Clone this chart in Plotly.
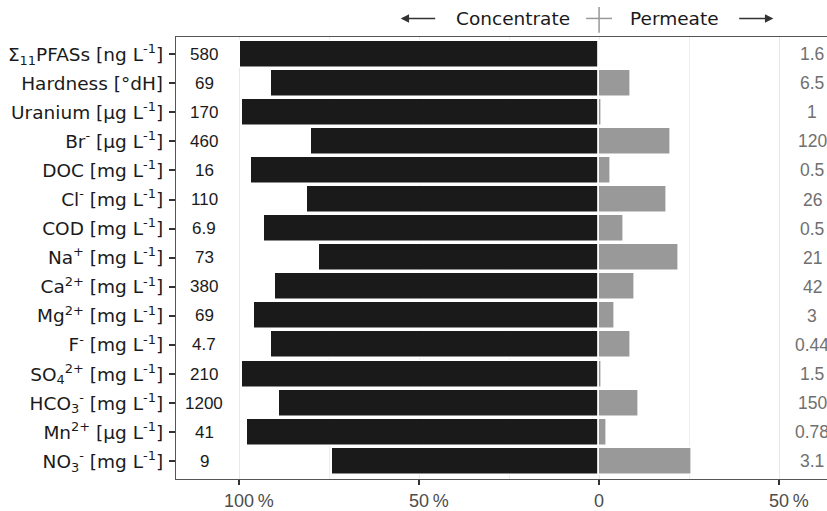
import plotly.graph_objects as go

labels = [
    "Σ<sub>11</sub>PFASs [ng L<sup>-1</sup>]",
    "Hardness [°dH]",
    "Uranium [µg L<sup>-1</sup>]",
    "Br<sup>-</sup> [µg L<sup>-1</sup>]",
    "DOC [mg L<sup>-1</sup>]",
    "Cl<sup>-</sup> [mg L<sup>-1</sup>]",
    "COD [mg L<sup>-1</sup>]",
    "Na<sup>+</sup> [mg L<sup>-1</sup>]",
    "Ca<sup>2+</sup> [mg L<sup>-1</sup>]",
    "Mg<sup>2+</sup> [mg L<sup>-1</sup>]",
    "F<sup>-</sup> [mg L<sup>-1</sup>]",
    "SO<sub>4</sub><sup>2+</sup> [mg L<sup>-1</sup>]",
    "HCO<sub>3</sub><sup>-</sup> [mg L<sup>-1</sup>]",
    "Mn<sup>2+</sup> [µg L<sup>-1</sup>]",
    "NO<sub>3</sub><sup>-</sup> [mg L<sup>-1</sup>]",
]
concentrate_pct = [99.7, 91.1, 99.2, 80.0, 96.7, 81.1, 93.1, 77.9, 89.9, 95.7, 91.1, 99.2, 88.8, 97.9, 74.2]
permeate_pct = [0.3, 8.9, 0.8, 20.0, 3.3, 18.9, 6.9, 22.1, 10.1, 4.3, 8.9, 0.8, 11.2, 2.1, 25.8]
concentrate_val = ["580", "69", "170", "460", "16", "110", "6.9", "73", "380", "69", "4.7", "210", "1200", "41", "9"]
permeate_val = ["1.6", "6.5", "1", "120", "0.5", "26", "0.5", "21", "42", "3", "0.44", "1.5", "150", "0.78", "3.1"]
x_tickvals = [-100, -50, 0, 50]
x_ticknums = ["100", "50", "0", "50"]
x_tickpct = [True, True, False, True]

pad = '<span style="color:rgba(255,255,255,0)">\u2009%</span>'
x_ticktext = [(pad + n + "\u2009%") if p else n for n, p in zip(x_ticknums, x_tickpct)]

ypos = list(range(len(labels)))

fig = go.Figure()
fig.add_trace(go.Bar(
    y=ypos, x=[-v for v in concentrate_pct], orientation="h", width=0.93,
    marker=dict(color="#1a1a1a", line=dict(color="white", width=1.6)),
    hoverinfo="skip", showlegend=False,
))
fig.add_trace(go.Bar(
    y=ypos, x=permeate_pct, orientation="h", width=0.93,
    marker=dict(color="#999999", line=dict(color="white", width=1.6)),
    hoverinfo="skip", showlegend=False,
))

for i in ypos:
    fig.add_annotation(x=-109.7, y=i, text=concentrate_val[i], showarrow=False,
                       font=dict(family="Liberation Sans, Arial", size=17, color="#1a1a1a"),
                       xanchor="center", yanchor="middle")
    fig.add_annotation(x=59.2, y=i, text=permeate_val[i], showarrow=False,
                       font=dict(family="Liberation Sans, Arial", size=17.5, color="#707070"),
                       xanchor="center", yanchor="middle")

# header
hdr_y = 1.042
fig.add_annotation(x=-23.9, y=hdr_y, xref="x", yref="paper", text="Concentrate", showarrow=False,
                   font=dict(family="DejaVu Sans", size=18.5, color="#1a1a1a"), yanchor="middle")
fig.add_annotation(x=21.0, y=hdr_y, xref="x", yref="paper", text="Permeate", showarrow=False,
                   font=dict(family="DejaVu Sans", size=18.5, color="#1a1a1a"), yanchor="middle")
fig.add_annotation(x=-55.1, y=hdr_y, ax=-45.1, ay=0, xref="x", yref="paper", axref="x", ayref="pixel",
                   text="", showarrow=True, arrowhead=2, arrowsize=1.2, arrowwidth=1.4, arrowcolor="#333333")
fig.add_annotation(x=48.4, y=hdr_y, ax=38.5, ay=0, xref="x", yref="paper", axref="x", ayref="pixel",
                   text="", showarrow=True, arrowhead=2, arrowsize=1.2, arrowwidth=1.4, arrowcolor="#333333")
fig.add_shape(type="line", x0=0, x1=0, y0=1.0097, y1=1.068, xref="x", yref="paper",
              line=dict(color="#999999", width=1.5))
fig.add_shape(type="line", x0=-3.6, x1=3.6, y0=hdr_y, y1=hdr_y, xref="x", yref="paper",
              line=dict(color="#999999", width=1.5))

fig.update_layout(
    width=827, height=511,
    margin=dict(l=176, r=0, t=37, b=29),
    paper_bgcolor="white", plot_bgcolor="white",
    barmode="overlay", bargap=0,
    font=dict(family="DejaVu Sans", size=17, color="#1a1a1a"),
)
fig.update_xaxes(
    range=[-117.5, 63.3], tickvals=x_tickvals, ticktext=x_ticktext,
    showgrid=True, gridcolor="#e8e8e8", gridwidth=1.2,
    minor=dict(dtick=25, tick0=0, showgrid=True, gridcolor="#ededed", gridwidth=1, ticks=""),
    showline=True, linecolor="#555555", linewidth=1.4, mirror=True,
    ticks="outside", ticklen=5, tickwidth=1.5, tickcolor="#333333",
    tickfont=dict(family="Liberation Sans, Arial", size=18, color="#4d4d4d"),
    zeroline=False,
)
fig.update_yaxes(
    range=[14.61, -0.59], tickvals=ypos, ticktext=labels,
    showgrid=False, zeroline=False,
    showline=True, linecolor="#555555", linewidth=1.4,
    ticks="outside", ticklen=6, tickwidth=1.5, tickcolor="#333333",
    tickfont=dict(family="DejaVu Sans", size=18.5, color="#1a1a1a"),
    ticklabelstandoff=2,
)

fig.write_html("out.html", config={"displayModeBar": False},
               post_script="document.body.style.margin='0';document.body.style.overflow='hidden';")
